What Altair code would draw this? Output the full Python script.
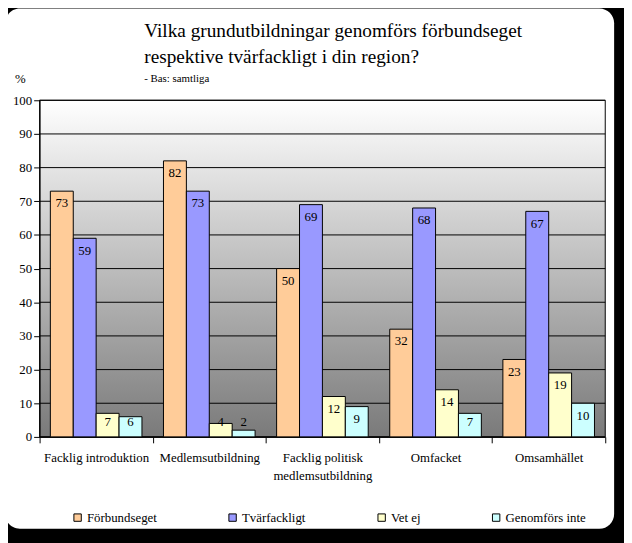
import altair as alt
import pandas as pd

categories = ["Facklig introduktion", "Medlemsutbildning", "Facklig politisk medlemsutbildning", "Omfacket", "Omsamhället"]
series = ["Förbundseget", "Tvärfackligt", "Vet ej", "Genomförs inte"]
forbundseget = [73, 82, 50, 32, 23]
tvarfackligt = [59, 73, 69, 68, 67]
vet_ej = [7, 4, 12, 14, 19]
genomfors_inte = [6, 2, 9, 7, 10]
colors = ["#FFCC99", "#9999FF", "#FFFFCC", "#CCFFFF"]
y_ticks = list(range(0, 101, 10))

rows = []
for s, vals in zip(series, [forbundseget, tvarfackligt, vet_ej, genomfors_inte]):
    for c, v in zip(categories, vals):
        rows.append({"kategori": c, "serie": s, "värde": v})
df = pd.DataFrame(rows)

W, H = 573, 341
FONT = "Liberation Serif"

x_enc = alt.X("kategori:N", sort=categories,
              scale=alt.Scale(paddingInner=0, paddingOuter=0),
              axis=alt.Axis(title=None, tickBand="extent", tickSize=6, labelPadding=9,
                            labelFont=FONT, labelFontSize=13, labelColor="black",
                            domainColor="black", tickColor="black", labelAngle=0,
                            labelLimit=200, labelLineHeight=18, labelBaseline="top", zindex=1,
                            labelOverlap=False,
                            labelExpr="datum.value == 'Facklig politisk medlemsutbildning' ? ['Facklig politisk', 'medlemsutbildning'] : datum.value"))
y_scale = alt.Scale(domain=[0, 100], nice=False, zero=True)
y_axis = alt.Axis(title=None, values=y_ticks, tickCount=11, tickSize=6, labelPadding=2,
                  labelFont=FONT, labelFontSize=13, labelColor="black",
                  domainColor="black", tickColor="black", grid=False, zindex=1,
                  labelOverlap=False, labelFlush=False)

card = alt.Chart(alt.Data(values=[{}])).mark_rect(fill="white", cornerRadius=15).encode(
    x=alt.value(-35), x2=alt.value(582), y=alt.value(-93), y2=alt.value(434))

bg = alt.Chart(alt.Data(values=[{}])).mark_rect(
    color=alt.Gradient(gradient="linear", x1=0, y1=0, x2=0, y2=1,
                       stops=[alt.GradientStop(color="#FFFFFF", offset=0),
                              alt.GradientStop(color="#7A7A7A", offset=1)]),
    stroke="black", strokeWidth=1).encode(
    x=alt.value(0), x2=alt.value(W), y=alt.value(0), y2=alt.value(H))

grid = alt.Chart(pd.DataFrame({"t": y_ticks})).mark_rule(color="black", strokeWidth=1).encode(
    y=alt.Y("t:Q", scale=y_scale, axis=y_axis))

base = alt.Chart(df)
bars = base.mark_bar(stroke="black", strokeWidth=1).encode(
    x=x_enc,
    xOffset=alt.XOffset("serie:N", sort=series, scale=alt.Scale(paddingInner=0, paddingOuter=0.47)),
    y=alt.Y("värde:Q", scale=y_scale, axis=y_axis),
    fill=alt.Fill("serie:N", sort=series, scale=alt.Scale(domain=series, range=colors),
                  legend=alt.Legend(title=None, orient="none", direction="horizontal",
                                    legendX=32, legendY=416, symbolType="square", symbolSize=56,
                                    symbolStrokeColor="black", symbolStrokeWidth=1,
                                    labelFont=FONT, labelFontSize=13, labelColor="black",
                                    columnPadding=70, labelOffset=3, zindex=1)),
)
labels = base.transform_calculate(ly="max(datum['värde'], 8)").mark_text(
    font=FONT, fontSize=13, color="black", baseline="middle", dy=12.5).encode(
    x=x_enc,
    xOffset=alt.XOffset("serie:N", sort=series, scale=alt.Scale(paddingInner=0, paddingOuter=0.47)),
    y=alt.Y("ly:Q", scale=y_scale, axis=y_axis),
    text="värde:Q",
)

def txt(s, x, y, size, align="left"):
    return alt.Chart(alt.Data(values=[{}])).mark_text(
        text=s, font=FONT, fontSize=size, color="black", align=align, baseline="alphabetic").encode(
        x=alt.value(x), y=alt.value(y))

texts = [
    txt("Vilka grundutbildningar genomförs förbundseget", 106, -64, 19.5),
    txt("respektive tvärfackligt i din region?", 106, -38, 19.5),
    txt("- Bas: samtliga", 106, -19, 11),
    txt("%", -25, -18, 13),
]

chart = alt.layer(card, bg, grid, bars, labels, *texts).properties(
    width=W, height=H, autosize="none",
    padding={"left": 32, "top": 90, "right": 19, "bottom": 104},
    background="black",
).configure_view(stroke=None)

chart.save("out.html", embed_options={"renderer": "svg", "actions": False})
